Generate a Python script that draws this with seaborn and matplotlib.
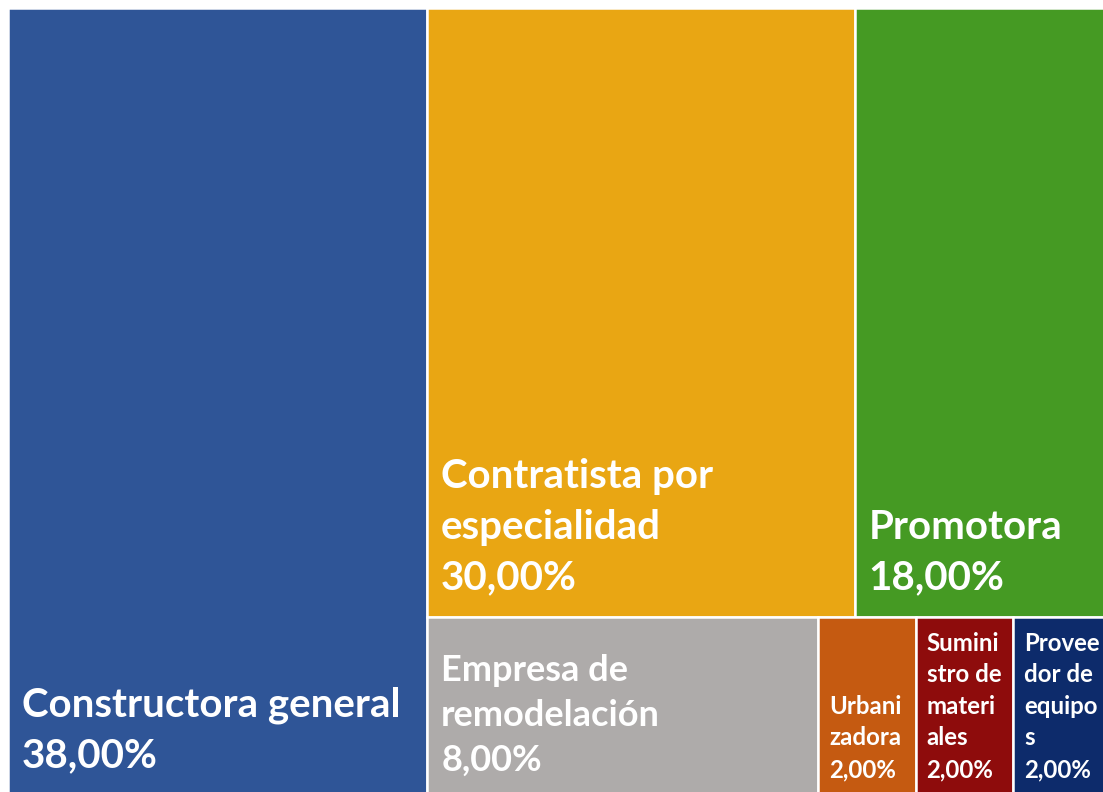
import matplotlib
matplotlib.use("Agg")
import matplotlib.pyplot as plt
import seaborn as sns

# data
categories = ["Constructora general", "Contratista por especialidad", "Promotora",
              "Empresa de remodelación", "Urbanizadora", "Suministro de materiales",
              "Proveedor de equipos"]
shares = [38, 30, 18, 8, 2, 2, 2]
# wrapped tile labels as shown in the chart
tile_labels = ["Constructora general", "Contratista por\nespecialidad", "Promotora",
               "Empresa de\nremodelación", "Urbani\nzadora", "Sumini\nstro de\nmateri\nales",
               "Provee\ndor de\nequipo\ns"]
# how the tiles are grouped: first a full-height column, then stacked rows
groups = [[0], [1, 2], [3, 4, 5, 6]]

colors = ["#2F5597", "#E9A613", "#459A23", "#AEABAA", "#C55A11", "#8E0C0C", "#0D2B6B"]


def treemap_layout(values, groups, x0, y0, W, H):
    total = sum(values)
    rects = {}
    first = groups[0]
    w0 = W * sum(values[i] for i in first) / total
    y = y0
    for i in first:
        h = H * values[i] / sum(values[j] for j in first)
        rects[i] = (x0, y, w0, h)
        y += h
    rest = [i for g in groups[1:] for i in g]
    rest_total = sum(values[i] for i in rest)
    y = y0
    for g in groups[1:]:
        gsum = sum(values[i] for i in g)
        h = H * gsum / rest_total
        x = x0 + w0
        for i in g:
            w = (W - w0) * values[i] / gsum
            rects[i] = (x, y, w, h)
            x += w
        y += h
    return rects


sns.set_theme(style="white")
plt.rcParams["font.family"] = ["Lato", "DejaVu Sans"]

fig = plt.figure(figsize=(11.03, 7.92), dpi=100)
ax = fig.add_axes([0, 0, 1, 1])
ax.set_xlim(0, 1103)
ax.set_ylim(792, 0)
ax.axis("off")

# the chart area runs a bit past the right and bottom edges of the image
rects = treemap_layout(shares, groups, 8, 8, 1103, 787)

for i, (x, y, w, h) in rects.items():
    ax.bar(x, h, width=w, bottom=y, align="edge", color=colors[i],
           edgecolor="white", linewidth=1.8)
    if h > 300:
        fs, pad_x, pad_y = 29, 14, 21
    elif w > 200:
        fs, pad_x, pad_y = 26, 14, 18
    else:
        fs, pad_x, pad_y = 17.3, 11, 14
    label = f"{tile_labels[i]}\n{shares[i]:.2f}%".replace(".", ",")
    ax.text(x + pad_x, y + h - pad_y, label, color="white", fontsize=fs,
            fontweight="bold", ha="left", va="bottom", linespacing=1.45)

fig.savefig("out.png", dpi=100)
